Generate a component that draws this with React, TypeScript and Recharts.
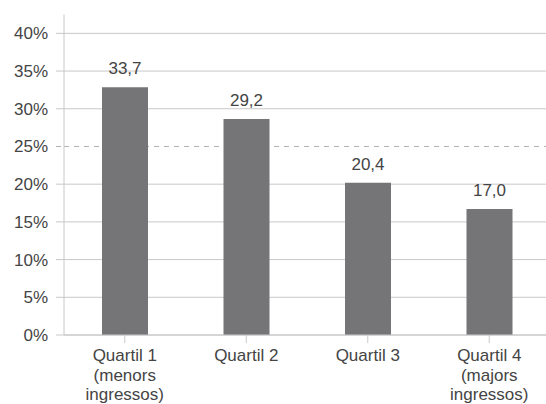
import React from "react";
import { BarChart, Bar, XAxis, YAxis, CartesianGrid, LabelList } from "recharts";

const categories = ["Quartil 1|(menors|ingressos)", "Quartil 2", "Quartil 3", "Quartil 4|(majors|ingressos)"];
const barHeights = [32.85, 28.65, 20.2, 16.7];
const labelValues = ["33,7", "29,2", "20,4", "17,0"];
const yTicks = [0, 5, 10, 15, 20, 25, 30, 35, 40];
const referenceTick = 25;

const data = categories.map((c, i) => ({ name: c, value: barHeights[i], label: labelValues[i] }));

const FONT = "'Liberation Sans', Arial, sans-serif";
const TEXT = "#444444";
const GRID = "#c8c8c8";
const DASH = "#b0b0b0";

const YTick = (props: any) => {
  const { x, y, payload } = props;
  const isRef = payload.value === referenceTick;
  return (
    <g>
      <line x1={x + 8} x2={x + 16} y1={y} y2={y} stroke={isRef ? DASH : GRID} strokeDasharray={isRef ? "5 5" : undefined} />
      <text x={x} y={y} dy={6} textAnchor="end" fontFamily={FONT} fontSize={17} fill={TEXT}>
        {payload.value + "%"}
      </text>
    </g>
  );
};

const XTick = (props: any) => {
  const { x, y, payload } = props;
  const lines = String(payload.value).split("|");
  return (
    <g>
      {lines.map((l, i) => (
        <text key={i} x={x} y={y + 18 + i * 19.5} textAnchor="middle" fontFamily={FONT} fontSize={17} fill={TEXT}>
          {l}
        </text>
      ))}
    </g>
  );
};

const BarLabel = (props: any) => {
  const { x, y, width, value } = props;
  return (
    <text x={x + width / 2} y={y - 13} textAnchor="middle" fontFamily={FONT} fontSize={17} fill={TEXT}>
      {value}
    </text>
  );
};

const GridLine = (props: any) => {
  const { x1, x2, y1, y2, index } = props;
  const v = yTicks[index];
  if (v === undefined) return null;
  const isRef = v === referenceTick;
  return (
    <line key={"g" + index} x1={x1} x2={x2} y1={y1} y2={y2} stroke={isRef ? DASH : GRID} strokeDasharray={isRef ? "5 5" : undefined} />
  );
};

export default function App() {
  return (
    <div style={{ position: "absolute", left: 0, top: 0, width: 546, height: 404, overflow: "hidden", background: "#fff" }}>
      <BarChart width={550} height={404} data={data} margin={{ top: 14.5, right: 0, left: 0, bottom: 0 }}>
        <CartesianGrid vertical={false} horizontal={GridLine as any} />
        <XAxis dataKey="name" height={69} interval={0} axisLine={{ stroke: GRID }} tickLine={{ stroke: GRID }} tickSize={8} tickMargin={0} tick={<XTick />} />
        <YAxis width={64} domain={[0, 42.5]} ticks={yTicks} axisLine={{ stroke: GRID }} tickLine={false} tickSize={8} tickMargin={8} tick={<YTick />} />
        <Bar dataKey="value" fill="#757578" barSize={46} isAnimationActive={false}>
          <LabelList dataKey="label" content={<BarLabel />} />
        </Bar>
      </BarChart>
    </div>
  );
}
